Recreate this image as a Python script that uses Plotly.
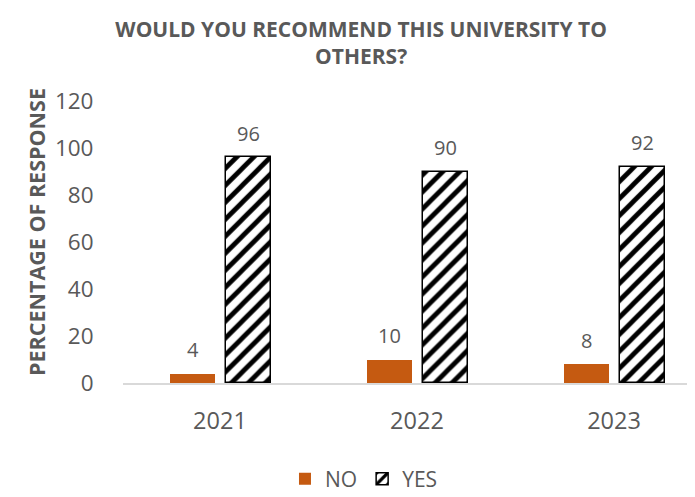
import plotly.graph_objects as go

years = ["2021", "2022", "2023"]
no_values = [4, 10, 8]
yes_values = [96, 90, 92]
y_ticks = [0, 20, 40, 60, 80, 100, 120]

GRAY = "#595959"
FONT = "Open Sans"
BAR_W = 0.23
NO_OFF = -0.254
YES_OFF = 0.03

W, H = 687, 489  # page body adds an 8px margin

fig = go.Figure()
fig.add_trace(go.Bar(
    name="NO", x=years, y=no_values,
    marker=dict(color="#C55A11", line=dict(width=0)),
    width=BAR_W, offset=NO_OFF,
))
fig.add_trace(go.Bar(
    name="YES", x=years, y=yes_values,
    marker=dict(color="white", line=dict(color="#000000", width=1.5),
                pattern=dict(shape="/", fgcolor="#000000", fgopacity=1, bgcolor="white",
                             size=12, solidity=0.4)),
    width=BAR_W, offset=YES_OFF,
))

annotations = []
for i, (n, y) in enumerate(zip(no_values, yes_values)):
    annotations.append(dict(x=i + NO_OFF + BAR_W / 2, y=n, text=str(n), showarrow=False,
                            yshift=24, xref="x", yref="y",
                            font=dict(family=FONT, size=20, color=GRAY)))
    annotations.append(dict(x=i + YES_OFF + BAR_W / 2, y=y, text=str(y), showarrow=False,
                            yshift=24, xref="x", yref="y",
                            font=dict(family=FONT, size=20, color=GRAY)))
annotations.append(dict(text="PERCENTAGE OF RESPONSE", textangle=-90, showarrow=False,
                        xref="paper", yref="paper", x=-0.1503, y=0.5355,
                        xanchor="center", yanchor="middle",
                        font=dict(family=FONT, size=21.5, color=GRAY, weight="bold")))

fig.update_layout(
    width=W, height=H,
    margin=dict(l=115, r=0, t=93, b=114, autoexpand=False),
    paper_bgcolor="white", plot_bgcolor="white",
    font=dict(family=FONT, color=GRAY),
    title=dict(text="WOULD YOU RECOMMEND THIS UNIVERSITY TO<br>OTHERS?",
               x=0.514, xanchor="center", yref="container", y=0.9407, yanchor="middle",
               font=dict(family=FONT, size=21, color=GRAY, weight="bold")),
    showlegend=True,
    legend=dict(orientation="h", x=0.4213, xanchor="center", yref="container",
                y=0.0368, yanchor="middle",
                font=dict(family=FONT, size=21, color=GRAY), itemwidth=30),
    annotations=annotations,
    bargap=0, bargroupgap=0,
)
fig.update_xaxes(type="category", range=[-0.492, 2.411], showline=True,
                 linecolor="#D9D9D9", linewidth=1.5, showgrid=False,
                 ticks="outside", ticklen=16, tickcolor="rgba(0,0,0,0)",
                 tickfont=dict(family=FONT, size=23.5, color=GRAY), fixedrange=True)
fig.update_yaxes(range=[0, 120], tickvals=y_ticks, showgrid=False, zeroline=False,
                 showline=False, ticks="outside", ticklen=24, tickcolor="rgba(0,0,0,0)",
                 tickfont=dict(family=FONT, size=22.5, color=GRAY))

fig.write_html("out.html")
